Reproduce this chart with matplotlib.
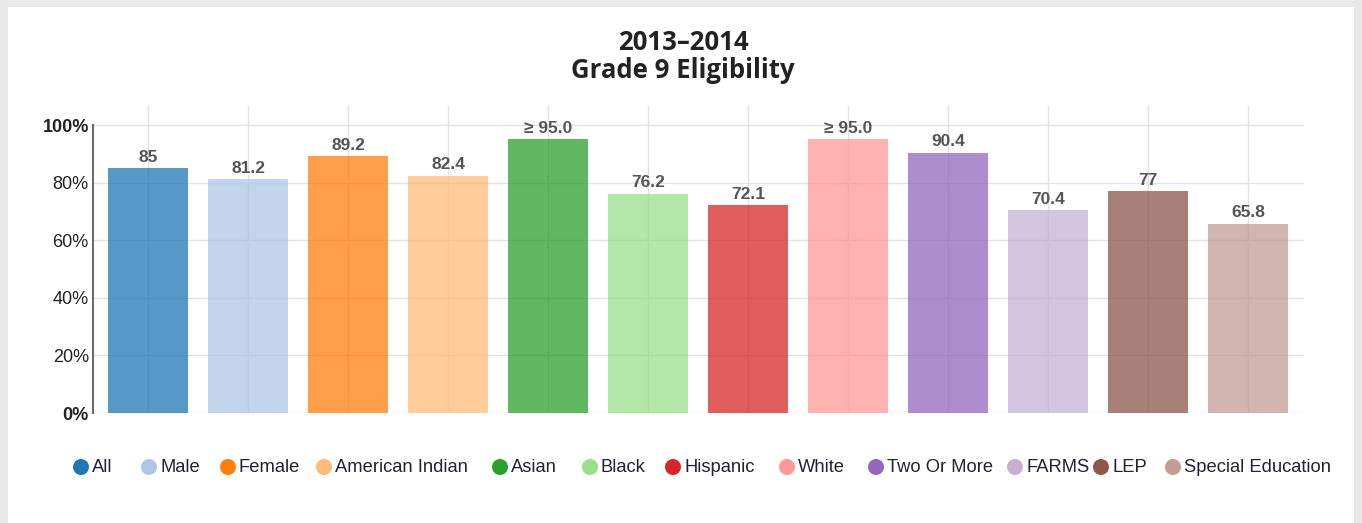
import matplotlib
matplotlib.use("Agg")
import matplotlib.pyplot as plt
from matplotlib.patches import Rectangle, Ellipse

categories = ["All", "Male", "Female", "American Indian", "Asian", "Black",
              "Hispanic", "White", "Two Or More", "FARMS", "LEP", "Special Education"]
values = [85, 81.2, 89.2, 82.4, 95.0, 76.2, 72.1, 95.0, 90.4, 70.4, 77, 65.8]
value_labels = ["85", "81.2", "89.2", "82.4", "\u2265 95.0", "76.2", "72.1",
                "\u2265 95.0", "90.4", "70.4", "77", "65.8"]
colors = ["#1f77b4", "#aec7e8", "#ff7f0e", "#ffbb78", "#2ca02c", "#98df8a",
          "#d62728", "#ff9896", "#9467bd", "#c5b0d5", "#8c564b", "#c49c94"]
yticks = [0, 20, 40, 60, 80, 100]
ytick_labels = ["0%", "20%", "40%", "60%", "80%", "100%"]

# legend marker x-positions (pixels) - layout only
legend_x = [81, 149, 228, 324, 500, 590, 673, 787, 876, 1015, 1101, 1173]

W, H = 1362, 523
fig = plt.figure(figsize=(W / 100, H / 100), dpi=100)
fig.patch.set_facecolor("#e9e9e9")
card = Rectangle((8 / W, 0), (1354 - 8) / W, (H - 7) / H,
                 transform=fig.transFigure, facecolor="white",
                 edgecolor="none", zorder=-10)
fig.add_artist(card)

ax = fig.add_axes([93 / W, 1 - 413 / H, (1304 - 93) / W, (413 - 106) / H])
ax.set_zorder(1)
ax.set_facecolor("none")
x = list(range(len(categories)))
ax.bar(x, values, width=0.8, color=colors, alpha=0.75, zorder=2)
for xi, v, lab in zip(x, values, value_labels):
    ax.annotate(lab, (xi, v), xytext=(0, 4.5), textcoords="offset points",
                ha="center", va="baseline", fontsize=12.5, fontweight="bold",
                color="#555555", family="Liberation Sans", zorder=3)

ax.set_xlim(-0.55, 11.56)
ax.set_ylim(0, 106.6)
ax.set_yticks(yticks)
ax.set_yticklabels(ytick_labels)
for t in ax.get_yticklabels():
    t.set_family("Liberation Sans")
    t.set_fontsize(13)
    t.set_color("#222222")
ax.get_yticklabels()[0].set_fontweight("bold")
ax.get_yticklabels()[-1].set_fontweight("bold")
ax.tick_params(axis="y", length=0, pad=3)
ax.set_xticks(x)
ax.tick_params(axis="x", length=0, labelbottom=False)
ax.grid(True, color="#e2e2e2", linewidth=1, zorder=0)
ax.set_axisbelow(True)
for s in ["top", "right", "bottom"]:
    ax.spines[s].set_visible(False)
ax.spines["left"].set_bounds(0, 100)
ax.spines["left"].set_color("#6a6a6a")
ax.spines["left"].set_linewidth(1.5)

fig.text(683 / W, 1 - 50 / H, "2013\u20132014", ha="center", va="baseline",
         fontsize=18.5, fontweight="bold", family="Open Sans", color="#222222")
fig.text(683 / W, 1 - 77.5 / H, "Grade 9 Eligibility", ha="center", va="baseline",
         fontsize=18.5, fontweight="bold", family="Open Sans", color="#222222")

ly = 1 - 467 / H
for px, c, lab in zip(legend_x, colors, categories):
    fig.add_artist(Ellipse((px / W, ly), 16 / W, 16 / H, transform=fig.transFigure,
                           facecolor=c, edgecolor="none"))
    fig.text((px + 11) / W, ly, lab, ha="left", va="center", fontsize=13.2,
             family="Liberation Sans", color="#222233")

fig.savefig("out.png", dpi=100)
